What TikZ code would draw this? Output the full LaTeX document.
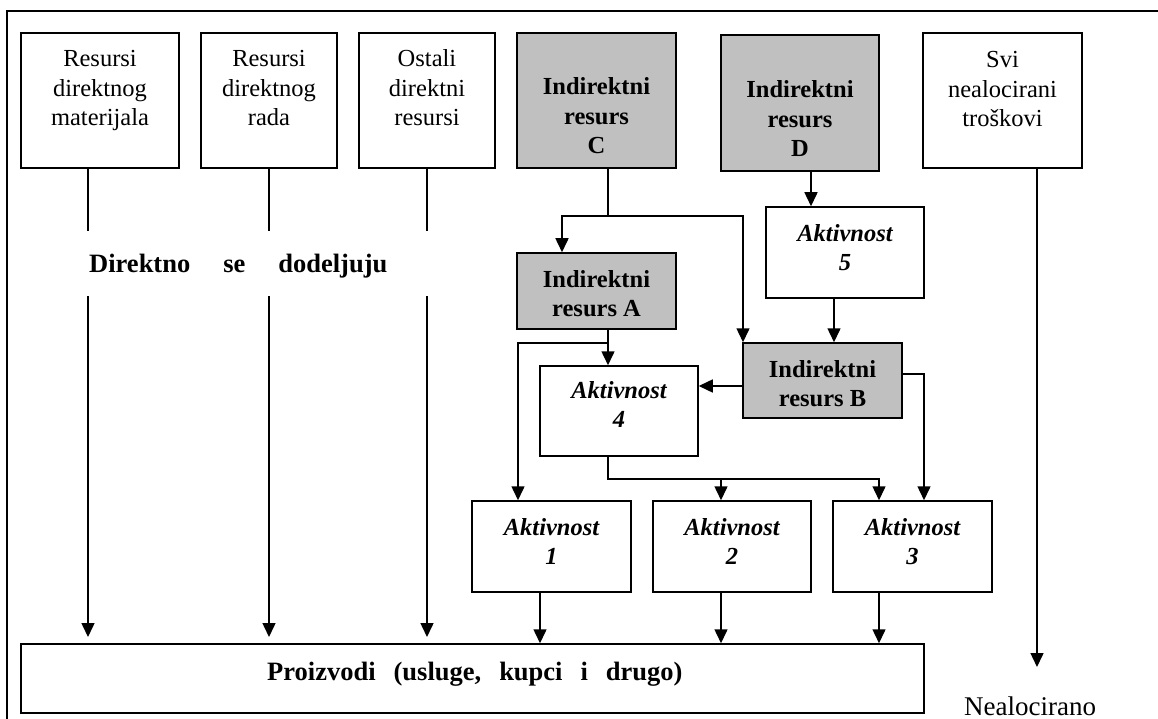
\documentclass[tikz,border=0pt]{standalone}
\usepackage{fontspec}
\setmainfont{Liberation Serif}
\usetikzlibrary{arrows.meta,fit}
\definecolor{boxgray}{RGB}{192,192,192}
\begin{document}
\begin{tikzpicture}[x=1pt,y=-1pt,
  box/.style={draw, line width=1.5pt, inner sep=0pt},
  shaded/.style={box, fill=boxgray},
  txt/.style={align=center, inner sep=0pt, anchor=base,
    font=\fontsize{24.5}{29.5}\selectfont},
  btxt/.style={txt, font=\fontsize{24.5}{29.5}\selectfont\bfseries},
  itxt/.style={txt, font=\fontsize{24.5}{29.5}\selectfont\bfseries\itshape},
  conn/.style={line width=1.5pt},
  arr/.style={conn, -{Triangle[length=14pt,width=13pt]}},
]
\useasboundingbox (0,0) rectangle (1158,719);

% outer frame
\draw[line width=2pt] (7,719) -- (7,11) -- (1158,11);

% resource boxes in the top row
\node[box, fit={(21,33)(179,168)}] (b1) {};
\node[box, fit={(201,33)(337,168)}] (b2) {};
\node[box, fit={(359,33)(495,168)}] (b3) {};
\node[shaded, fit={(517,33)(676,168)}] (bC) {};
\node[shaded, line width=2.5pt, fit={(721,35)(879,171)}] (bD) {};
\node[box, fit={(923,33)(1082,168)}] (bS) {};

% indirect resources and activities
\node[box, fit={(766,207)(924,298)}] (b5) {};
\node[shaded, fit={(517,253)(676,329)}] (bA) {};
\node[shaded, fit={(743,343)(902,418)}] (bB) {};
\node[box, fit={(540,366)(698,456)}] (a4) {};
\node[box, fit={(472,501)(631,592)}] (a1) {};
\node[box, fit={(653,501)(811,592)}] (a2) {};
\node[box, fit={(833,501)(992,592)}] (a3) {};
\node[box, fit={(21,644)(924,713)}] (prod) {};

% labels (placed by the baseline of their last line)
\node[txt] (t1) at (100,126) {Resursi\\direktnog\\materijala};
\node[txt] (t2) at (269,126) {Resursi\\direktnog\\rada};
\node[txt] (t3) at (427,126) {Ostali\\direktni\\resursi};
\node[btxt] (tC) at (596.5,154) {Indirektni\\resurs\\C};
\node[btxt] (tD) at (800,157) {Indirektni\\resurs\\D};
\node[txt] (tS) at (1002.5,127) {Svi\\nealocirani\\troškovi};
\node[itxt] (t5) at (845,270.5) {Aktivnost\\5};
\node[btxt] (tA) at (596.5,316.5) {Indirektni\\resurs A};
\node[btxt] (tB) at (822.5,406.5) {Indirektni\\resurs B};
\node[itxt] (t4) at (619,427.5) {Aktivnost\\4};
\node[itxt] (t1a) at (551.5,564.5) {Aktivnost\\1};
\node[itxt] (t2a) at (732,564.5) {Aktivnost\\2};
\node[itxt] (t3a) at (912.5,564.5) {Aktivnost\\3};
\node[txt, anchor=base west, font=\fontsize{26.5}{30}\selectfont\bfseries] (tP) at (267,680)
  {Proizvodi\hspace{18pt}(usluge,\hspace{18pt}kupci\hspace{18pt}i\hspace{18pt}drugo)};
\node[txt, anchor=base west, font=\fontsize{26.5}{30}\selectfont\bfseries] (dir) at (89,272)
  {Direktno\hspace{33pt}se\hspace{33pt}dodeljuju};
\node[txt, font=\fontsize{27}{30}\selectfont] (neal) at (1030,715) {Nealocirano};

% direct assignment lines (broken by the label)
\coordinate (d1a) at (88,231);  \coordinate (d1b) at (88,296);  \coordinate (d1e) at (88,637);
\coordinate (d2a) at (269,231); \coordinate (d2b) at (269,296); \coordinate (d2e) at (269,637);
\coordinate (d3a) at (427,231); \coordinate (d3b) at (427,296); \coordinate (d3e) at (427,637);
\draw[conn] (d1a |- b1.south) -- (d1a);
\draw[arr] (d1b) -- (d1e);
\draw[conn] (d2a |- b2.south) -- (d2a);
\draw[arr] (d2b) -- (d2e);
\draw[conn] (d3a |- b3.south) -- (d3a);
\draw[arr] (d3b) -- (d3e);

% unallocated costs
\coordinate (nS) at (1037,667);
\draw[arr] (nS |- bS.south) -- (nS);

% resource C splits to A and B
\coordinate (jC) at (608,216);
\coordinate (jCl) at (562,216);
\coordinate (jCr) at (743,216);
\draw[arr] (jC |- bC.south) -- (jC) -| (jCl |- bA.north);
\draw[arr] (jC) -| (jCr |- bB.north);

% resource D to activity 5, activity 5 to B
\coordinate (xD) at (811,0);
\draw[arr] (xD |- bD.south) -- (xD |- b5.north);
\coordinate (x5) at (834,0);
\draw[arr] (x5 |- b5.south) -- (x5 |- bB.north);

% resource A to activities 4 and 1
\coordinate (xA) at (608,343);
\coordinate (xA1) at (518,0);
\draw[arr] (xA |- bA.south) -- (xA |- a4.north);
\draw[arr] (xA) -| (xA1 |- a1.north);

% resource B to activities 4 and 3
\coordinate (yB) at (0,386);
\draw[arr] (yB -| bB.west) -- (yB -| a4.east);
\coordinate (jB) at (924,374);
\draw[arr] (jB -| bB.east) -- (jB) -- (jB |- a3.north);

% activity 4 to activities 2 and 3
\coordinate (j4) at (608,479);
\coordinate (j4r) at (879,479);
\coordinate (x2) at (721,0);
\draw[arr] (j4 |- a4.south) -- (j4) -| (j4r |- a3.north);
\draw[arr] (x2 |- j4) -- (x2 |- a2.north);

% activities to products
\coordinate (xa1) at (540,0);
\draw[arr] (xa1 |- a1.south) -- (xa1 |- prod.north);
\draw[arr] (x2 |- a2.south) -- (x2 |- prod.north);
\draw[arr] (j4r |- a3.south) -- (j4r |- prod.north);
\end{tikzpicture}
\end{document}
